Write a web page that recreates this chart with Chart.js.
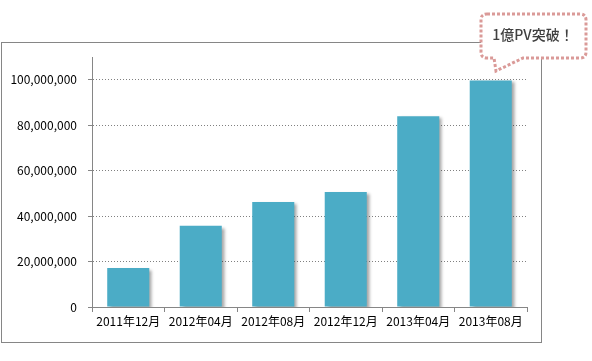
<!DOCTYPE html>
<html>
<head>
<meta charset="utf-8">
<script src="https://cdn.jsdelivr.net/npm/chart.js@4/dist/chart.umd.min.js"></script>
<style>
  body { margin: 0; background: #fff; }
  #wrap { width: 592px; height: 361px; position: relative; }
</style>
</head>
<body>
<div id="wrap"><canvas id="chart"></canvas></div>
<script>
const meses = ['2011年12月', '2012年04月', '2012年08月', '2012年12月', '2013年04月', '2013年08月'];
const pageViews = [17200000, 35700000, 46200000, 50600000, 83900000, 99700000];
const yTicks = [0, 20000000, 40000000, 60000000, 80000000, 100000000];
const calloutText = '1億PV突破！';

const ctx = document.getElementById('chart');
const fonte = "'Noto Sans CJK JP', 'Noto Sans', sans-serif";

// moldura externa + balao
const moldura = {
  id: 'moldura',
  beforeDraw(chart) {
    const c = chart.ctx;
    c.save();
    c.strokeStyle = '#868686';
    c.lineWidth = 1;
    c.strokeRect(1.5, 42.5, 540, 300);
    c.restore();
  },
  beforeDatasetsDraw(chart) {
    const c = chart.ctx;
    c.save();
    c.shadowColor = 'rgba(0,0,0,0.35)';
    c.shadowOffsetX = 3;
    c.shadowOffsetY = 2;
    c.shadowBlur = 3;
  },
  afterDatasetsDraw(chart) {
    chart.ctx.restore();
  },
  afterDraw(chart) {
    const c = chart.ctx;
    const x0 = 481, y0 = 14, x1 = 586, y1 = 58, r = 6;
    c.save();
    c.beginPath();
    c.moveTo(x0 + r, y0);
    c.lineTo(x1 - r, y0);
    c.quadraticCurveTo(x1, y0, x1, y0 + r);
    c.lineTo(x1, y1 - r);
    c.quadraticCurveTo(x1, y1, x1 - r, y1);
    c.lineTo(523, y1);
    c.lineTo(496, 71);
    c.lineTo(494, y1);
    c.lineTo(x0 + r, y1);
    c.quadraticCurveTo(x0, y1, x0, y1 - r);
    c.lineTo(x0, y0 + r);
    c.quadraticCurveTo(x0, y0, x0 + r, y0);
    c.closePath();
    c.fillStyle = '#fff';
    c.fill();
    c.setLineDash([3, 2]);
    c.lineWidth = 3;
    c.strokeStyle = '#DA9A98';
    c.stroke();
    c.setLineDash([]);
    c.fillStyle = '#404040';
    c.font = "500 14px " + fonte;
    c.textAlign = 'center';
    c.textBaseline = 'middle';
    c.fillText(calloutText, 533, 35);
    c.restore();
  }
};

let mainChart = new Chart(ctx, {
  type: 'bar',
  data: {
    labels: meses,
    datasets: [{
      label: 'PV',
      data: pageViews,
      backgroundColor: '#4BACC6',
      borderWidth: 0,
      barPercentage: 0.58,
      categoryPercentage: 1
    }]
  },
  options: {
    responsive: true,
    maintainAspectRatio: false,
    animation: false,
    layout: { padding: { left: 0, top: 57, right: 65, bottom: 0 } },
    plugins: {
      legend: { display: false },
      tooltip: { enabled: false }
    },
    scales: {
      x: {
        afterFit(scale) { scale.height = 54; },
        grid: {
          offset: true,
          drawOnChartArea: false,
          tickLength: 5,
          tickColor: '#868686'
        },
        border: { color: '#868686', width: 1 },
        ticks: {
          color: '#000',
          font: { family: fonte, size: 12 },
          padding: 2,
          maxRotation: 0,
          autoSkip: false
        }
      },
      y: {
        min: 0,
        max: 110000000,
        afterFit(scale) { scale.width = 92; },
        afterBuildTicks(scale) {
          scale.ticks = yTicks.map(v => ({ value: v }));
        },
        grid: {
          color: '#808080',
          tickColor: '#868686',
          tickLength: 4
        },
        border: { color: '#868686', width: 1, dash: [1, 2] },
        ticks: {
          color: '#000',
          font: { family: fonte, size: 12 },
          padding: 11,
          callback: v => v.toLocaleString('en-US')
        }
      }
    }
  },
  plugins: [moldura]
});
</script>
</body>
</html>
